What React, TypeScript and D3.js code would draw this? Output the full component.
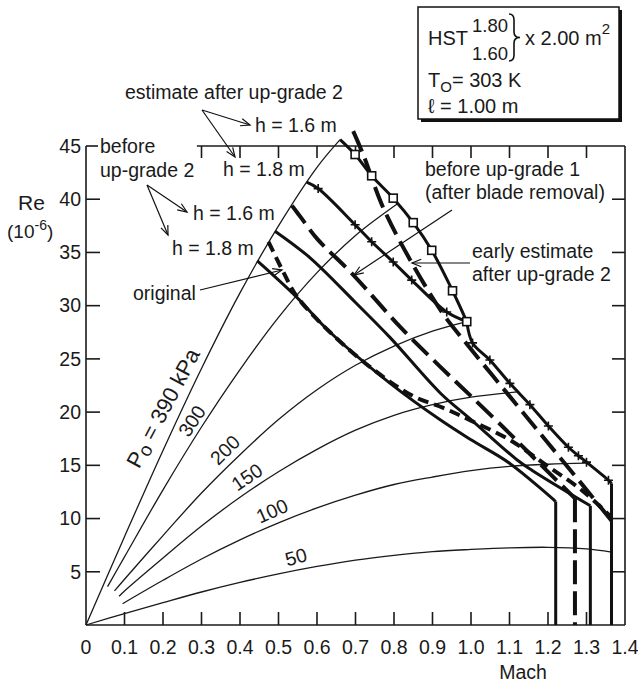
import React from "react";
import * as d3 from "d3";

// ---------- data (Mach, Re x10^-6) ----------
const machTicks = [0, 0.1, 0.2, 0.3, 0.4, 0.5, 0.6, 0.7, 0.8, 0.9, 1.0, 1.1, 1.2, 1.3, 1.4];
const machTickLabels = ["0", "0.1", "0.2", "0.3", "0.4", "0.5", "0.6", "0.7", "0.8", "0.9", "1.0", "1.1", "1.2", "1.3", "1.4"];
const reTicks = [5, 10, 15, 20, 25, 30, 35, 40, 45];
const reTickLabels = ["5", "10", "15", "20", "25", "30", "35", "40", "45"];

// constant total pressure lines (thin)
const po390 = [[0, 0], [0.1, 8.3], [0.2, 16.4], [0.3, 24.1], [0.4, 31.2], [0.5, 37.5], [0.6, 43.0], [0.66, 45.6]];
const po300 = [[0.056, 3.6], [0.1, 6.4], [0.2, 12.7], [0.3, 18.6], [0.4, 24.0], [0.5, 28.9], [0.6, 33.1], [0.7, 36.6], [0.81, 39.6]];
const po200 = [[0.074, 3.2], [0.1, 4.3], [0.2, 8.4], [0.3, 12.4], [0.4, 16.0], [0.5, 19.3], [0.6, 22.1], [0.7, 24.4], [0.8, 26.2], [0.9, 27.6], [0.989, 28.5]];
const po150 = [[0.086, 2.7], [0.1, 3.2], [0.2, 6.3], [0.3, 9.3], [0.4, 12.0], [0.5, 14.4], [0.6, 16.5], [0.7, 18.3], [0.8, 19.7], [0.9, 20.7], [1.0, 21.4], [1.12, 21.9]];
const po100 = [[0.095, 2.0], [0.2, 4.2], [0.3, 6.2], [0.4, 8.0], [0.5, 9.6], [0.6, 11.0], [0.7, 12.2], [0.8, 13.2], [0.9, 13.9], [1.0, 14.5], [1.1, 14.9], [1.2, 15.1], [1.3, 15.2]];
const po50 = [[0, 0], [0.1, 1.07], [0.2, 2.1], [0.3, 3.1], [0.4, 4.0], [0.5, 4.8], [0.6, 5.5], [0.7, 6.1], [0.8, 6.55], [0.9, 6.9], [1.0, 7.1], [1.1, 7.25], [1.2, 7.3], [1.3, 7.15], [1.365, 6.85]];

// operating envelopes (thick)
const originalEnv = [[0.474, 36.0], [0.512, 33.2], [0.547, 30.9], [0.634, 27.5], [0.75, 23.9], [0.85, 21.5], [0.928, 20.4], [1.0, 19.2], [1.1, 17.4], [1.2, 14.9], [1.29, 12.6], [1.365, 10.1]];
const beforeUg2h18 = [[0.445, 34.2], [0.547, 30.8], [0.634, 27.5], [0.79, 22.7], [0.919, 19.3], [1.0, 17.4], [1.1, 15.2], [1.22, 11.6]];
const beforeUg2h16 = [[0.491, 37.0], [0.582, 34.5], [0.7, 30.3], [0.79, 27.0], [0.92, 21.8], [1.0, 19.3], [1.12, 15.5], [1.16, 14.5], [1.31, 11.2]];
const beforeUg1 = [[0.535, 39.4], [0.56, 38.2], [0.6, 36.3], [0.694, 32.9], [0.816, 28.0], [0.919, 24.3], [1.0, 21.5], [1.1, 18.0], [1.18, 15.1], [1.27, 11.9]];
const earlyEstimate = [[0.694, 46.4], [0.72, 44.2], [0.772, 39.2], [0.842, 34.3], [0.928, 29.2], [0.989, 26.4], [1.1, 21.5], [1.2, 17.1], [1.3, 12.7], [1.365, 9.8]];
const estimateH16 = [[0.66, 45.6], [0.699, 44.2], [0.742, 42.2], [0.798, 40.1], [0.85, 37.8], [0.898, 35.2], [0.952, 31.4], [0.989, 28.5]];
const estimateH18 = [[0.573, 41.6], [0.603, 41.0], [0.699, 37.6], [0.742, 36.0], [0.798, 34.1], [0.846, 32.4], [0.937, 29.4], [0.989, 28.5]];
const estimateTail = [[0.989, 28.5], [1.004, 26.5], [1.049, 24.9], [1.101, 22.7], [1.153, 20.7], [1.201, 18.7], [1.253, 16.7], [1.279, 15.9], [1.3, 15.3], [1.357, 13.6], [1.365, 13.3]];

// choke (max Mach) limits: [Mach, Re at top]
const chokeLimits = [[1.22, 11.6], [1.27, 11.9], [1.31, 11.2], [1.365, 13.3]];

const squareMarks = estimateH16.slice(1);
const plusMarks = estimateH18.slice(1, -1).concat(estimateTail.slice(1, -1));

const FONT = "'Liberation Sans', Arial, Helvetica, sans-serif";

function Arrow({ x1, y1, x2, y2 }: { x1: number; y1: number; x2: number; y2: number }) {
  const a = Math.atan2(y2 - y1, x2 - x1);
  const L = 10, s = 0.38;
  const p1 = [x2 - L * Math.cos(a - s), y2 - L * Math.sin(a - s)];
  const p2 = [x2 - L * Math.cos(a + s), y2 - L * Math.sin(a + s)];
  return (
    <g stroke="#111" strokeWidth={1.2} fill="none">
      <line x1={x1} y1={y1} x2={x2} y2={y2} />
      <polyline points={`${p1[0]},${p1[1]} ${x2},${y2} ${p2[0]},${p2[1]}`} />
    </g>
  );
}

export default function App() {
  const x = d3.scaleLinear().domain([0, 1.4]).range([86, 625]);
  const y = d3.scaleLinear().domain([0, 45]).range([625, 146]);
  const smooth = d3
    .line<number[]>()
    .x((d) => x(d[0]))
    .y((d) => y(d[1]))
    .curve(d3.curveCatmullRom.alpha(0.5));

  const thinLines = [po390, po300, po200, po150, po100, po50];
  const thick = [
    { d: beforeUg2h18, w: 3, dash: "" },
    { d: beforeUg2h16, w: 3, dash: "" },
    { d: originalEnv, w: 4, dash: "11 6" },
    { d: beforeUg1, w: 4, dash: "22 8" },
    { d: earlyEstimate, w: 4, dash: "22 8" },
    { d: estimateH16, w: 3, dash: "" },
    { d: estimateH18, w: 3, dash: "" },
    { d: estimateTail, w: 3, dash: "" },
  ];
  const chokeStyles = ["", "24 7", "", ""];

  const x0 = x(0), x1 = x(1.4), y0 = y(0), y45 = y(45);
  const ink = "#1a1a1a";

  return (
    <svg width={638} height={683} style={{ position: "absolute", left: 0, top: 0, background: "#fff" }} fontFamily={FONT}>
      {/* frame */}
      <g stroke={ink} strokeWidth={1.6} fill="none">
        <line x1={x0} y1={y0} x2={x1} y2={y0} />
        <line x1={x0} y1={y0} x2={x0} y2={y45} />
        <line x1={x1} y1={y0} x2={x1} y2={y45} />
        <line x1={x0} y1={y45} x2={x0 + 12} y2={y45} />
        <line x1={x(0.288)} y1={y45} x2={x1} y2={y45} />
        {machTicks.slice(1, -1).map((m) => (
          <line key={"b" + m} x1={x(m)} y1={y0} x2={x(m)} y2={y0 - 13} />
        ))}
        {machTicks.filter((m) => m >= 0.3 && m < 1.4).map((m) => (
          <line key={"t" + m} x1={x(m)} y1={y45} x2={x(m)} y2={y45 + 12} />
        ))}
        {reTicks.slice(0, -1).map((r) => (
          <g key={"r" + r}>
            <line x1={x0} y1={y(r)} x2={x0 + 14} y2={y(r)} />
            <line x1={x1} y1={y(r)} x2={x1 - 13} y2={y(r)} />
          </g>
        ))}
      </g>

      {/* tick labels */}
      <g fontSize={19.5} fill={ink}>
        {machTicks.map((m, i) => (
          <text key={"xl" + m} x={x(m)} y={654} textAnchor="middle">{machTickLabels[i]}</text>
        ))}
        {reTicks.map((r, i) => (
          <text key={"yl" + r} x={81} y={y(r)} dy="0.35em" textAnchor="end">{reTickLabels[i]}</text>
        ))}
        <text x={523} y={679} textAnchor="middle">Mach</text>
        <text x={18} y={210} fontSize={21}>Re</text>
        <text x={7} y={238} fontSize={19}>
          (10<tspan fontSize={14} dy={-8}>-6</tspan><tspan dy={8}>)</tspan>
        </text>
      </g>

      {/* thin Po lines */}
      <g stroke={ink} strokeWidth={1.3} fill="none">
        {thinLines.map((d, i) => (
          <path key={"po" + i} d={smooth(d) || ""} />
        ))}
      </g>

      {/* thick envelopes */}
      <g stroke="#111" fill="none" strokeLinecap="butt" strokeLinejoin="round">
        {thick.map((t, i) => (
          <path key={"th" + i} d={smooth(t.d) || ""} strokeWidth={t.w} strokeDasharray={t.dash || undefined} />
        ))}
        {chokeLimits.map((c, i) => (
          <line key={"ch" + i} x1={x(c[0])} y1={y(c[1])} x2={x(c[0])} y2={y0}
            strokeWidth={chokeStyles[i] ? 4 : 3} strokeDasharray={chokeStyles[i] || undefined} />
        ))}
      </g>

      {/* markers */}
      <g stroke="#111" strokeWidth={1.6}>
        {squareMarks.map((p, i) => (
          <rect key={"sq" + i} x={x(p[0]) - 4} y={y(p[1]) - 4} width={8} height={8} fill="#fff" />
        ))}
        {plusMarks.map((p, i) => (
          <path key={"pl" + i} d={`M${x(p[0]) - 4.5},${y(p[1])}h9M${x(p[0])},${y(p[1]) - 4.5}v9`} fill="none" />
        ))}
      </g>

      {/* Po labels */}
      <g fill={ink} fontSize={19.5} textAnchor="middle">
        <text transform="translate(163,408) rotate(-62)" dy="0.35em" fontSize={22}>
          P<tspan dy={3} fontSize={19}>o</tspan><tspan dy={-3}> = 390 kPa</tspan>
        </text>
        <text transform="translate(192,421) rotate(-57)" dy="0.35em">300</text>
        <text transform="translate(225,450) rotate(-45)" dy="0.35em">200</text>
        <text transform="translate(247,477) rotate(-34)" dy="0.35em">150</text>
        <text transform="translate(272,511) rotate(-24)" dy="0.35em">100</text>
        <text transform="translate(296,557) rotate(-15)" dy="0.35em">50</text>
      </g>

      {/* annotations */}
      <g fill={ink} fontSize={19.5}>
        <text x={125} y={99}>estimate after up-grade 2</text>
        <text x={255} y={132}>h = 1.6 m</text>
        <text x={223} y={176}>h = 1.8 m</text>
        <text x={100} y={153}>before</text>
        <text x={100} y={177}>up-grade 2</text>
        <text x={193} y={220}>h = 1.6 m</text>
        <text x={172} y={255}>h = 1.8 m</text>
        <text x={133} y={300}>original</text>
        <text x={425} y={176}>before up-grade 1</text>
        <text x={425} y={199}>(after blade removal)</text>
        <text x={472} y={258}>early estimate</text>
        <text x={472} y={281}>after up-grade 2</text>
      </g>
      <Arrow x1={202} y1={110} x2={250} y2={125} />
      <Arrow x1={202} y1={110} x2={235} y2={157} />
      <Arrow x1={147} y1={185} x2={187} y2={212} />
      <Arrow x1={147} y1={185} x2={168} y2={235} />
      <Arrow x1={200} y1={290} x2={282} y2={270} />
      <Arrow x1={452} y1={210} x2={354} y2={275} />
      <Arrow x1={470} y1={263} x2={412} y2={263} />

      {/* info box */}
      <rect x={421} y={10} width={201} height={112} fill="#111" />
      <rect x={418} y={7} width={201} height={112} fill="#fff" stroke="#111" strokeWidth={1.5} />
      <g fill={ink} fontSize={20}>
        <text x={428} y={45}>HST</text>
        <text x={472} y={32} fontSize={18.5}>1.80</text>
        <text x={472} y={60} fontSize={18.5}>1.60</text>
        <text x={525} y={45}>x 2.00 m<tspan fontSize={15} dy={-11}>2</tspan></text>
        <text x={428} y={87}>T<tspan fontSize={15} dy={5}>O</tspan><tspan dy={-5}>= 303 K</tspan></text>
        <text x={428} y={113}>ℓ <tspan> = 1.00 m</tspan></text>
      </g>
      <path d="M509,14 Q514,14 514,20 L514,32 Q514,37.5 520,37.5 Q514,37.5 514,43 L514,55 Q514,61 509,61"
        fill="none" stroke="#111" strokeWidth={1.6} />
    </svg>
  );
}
